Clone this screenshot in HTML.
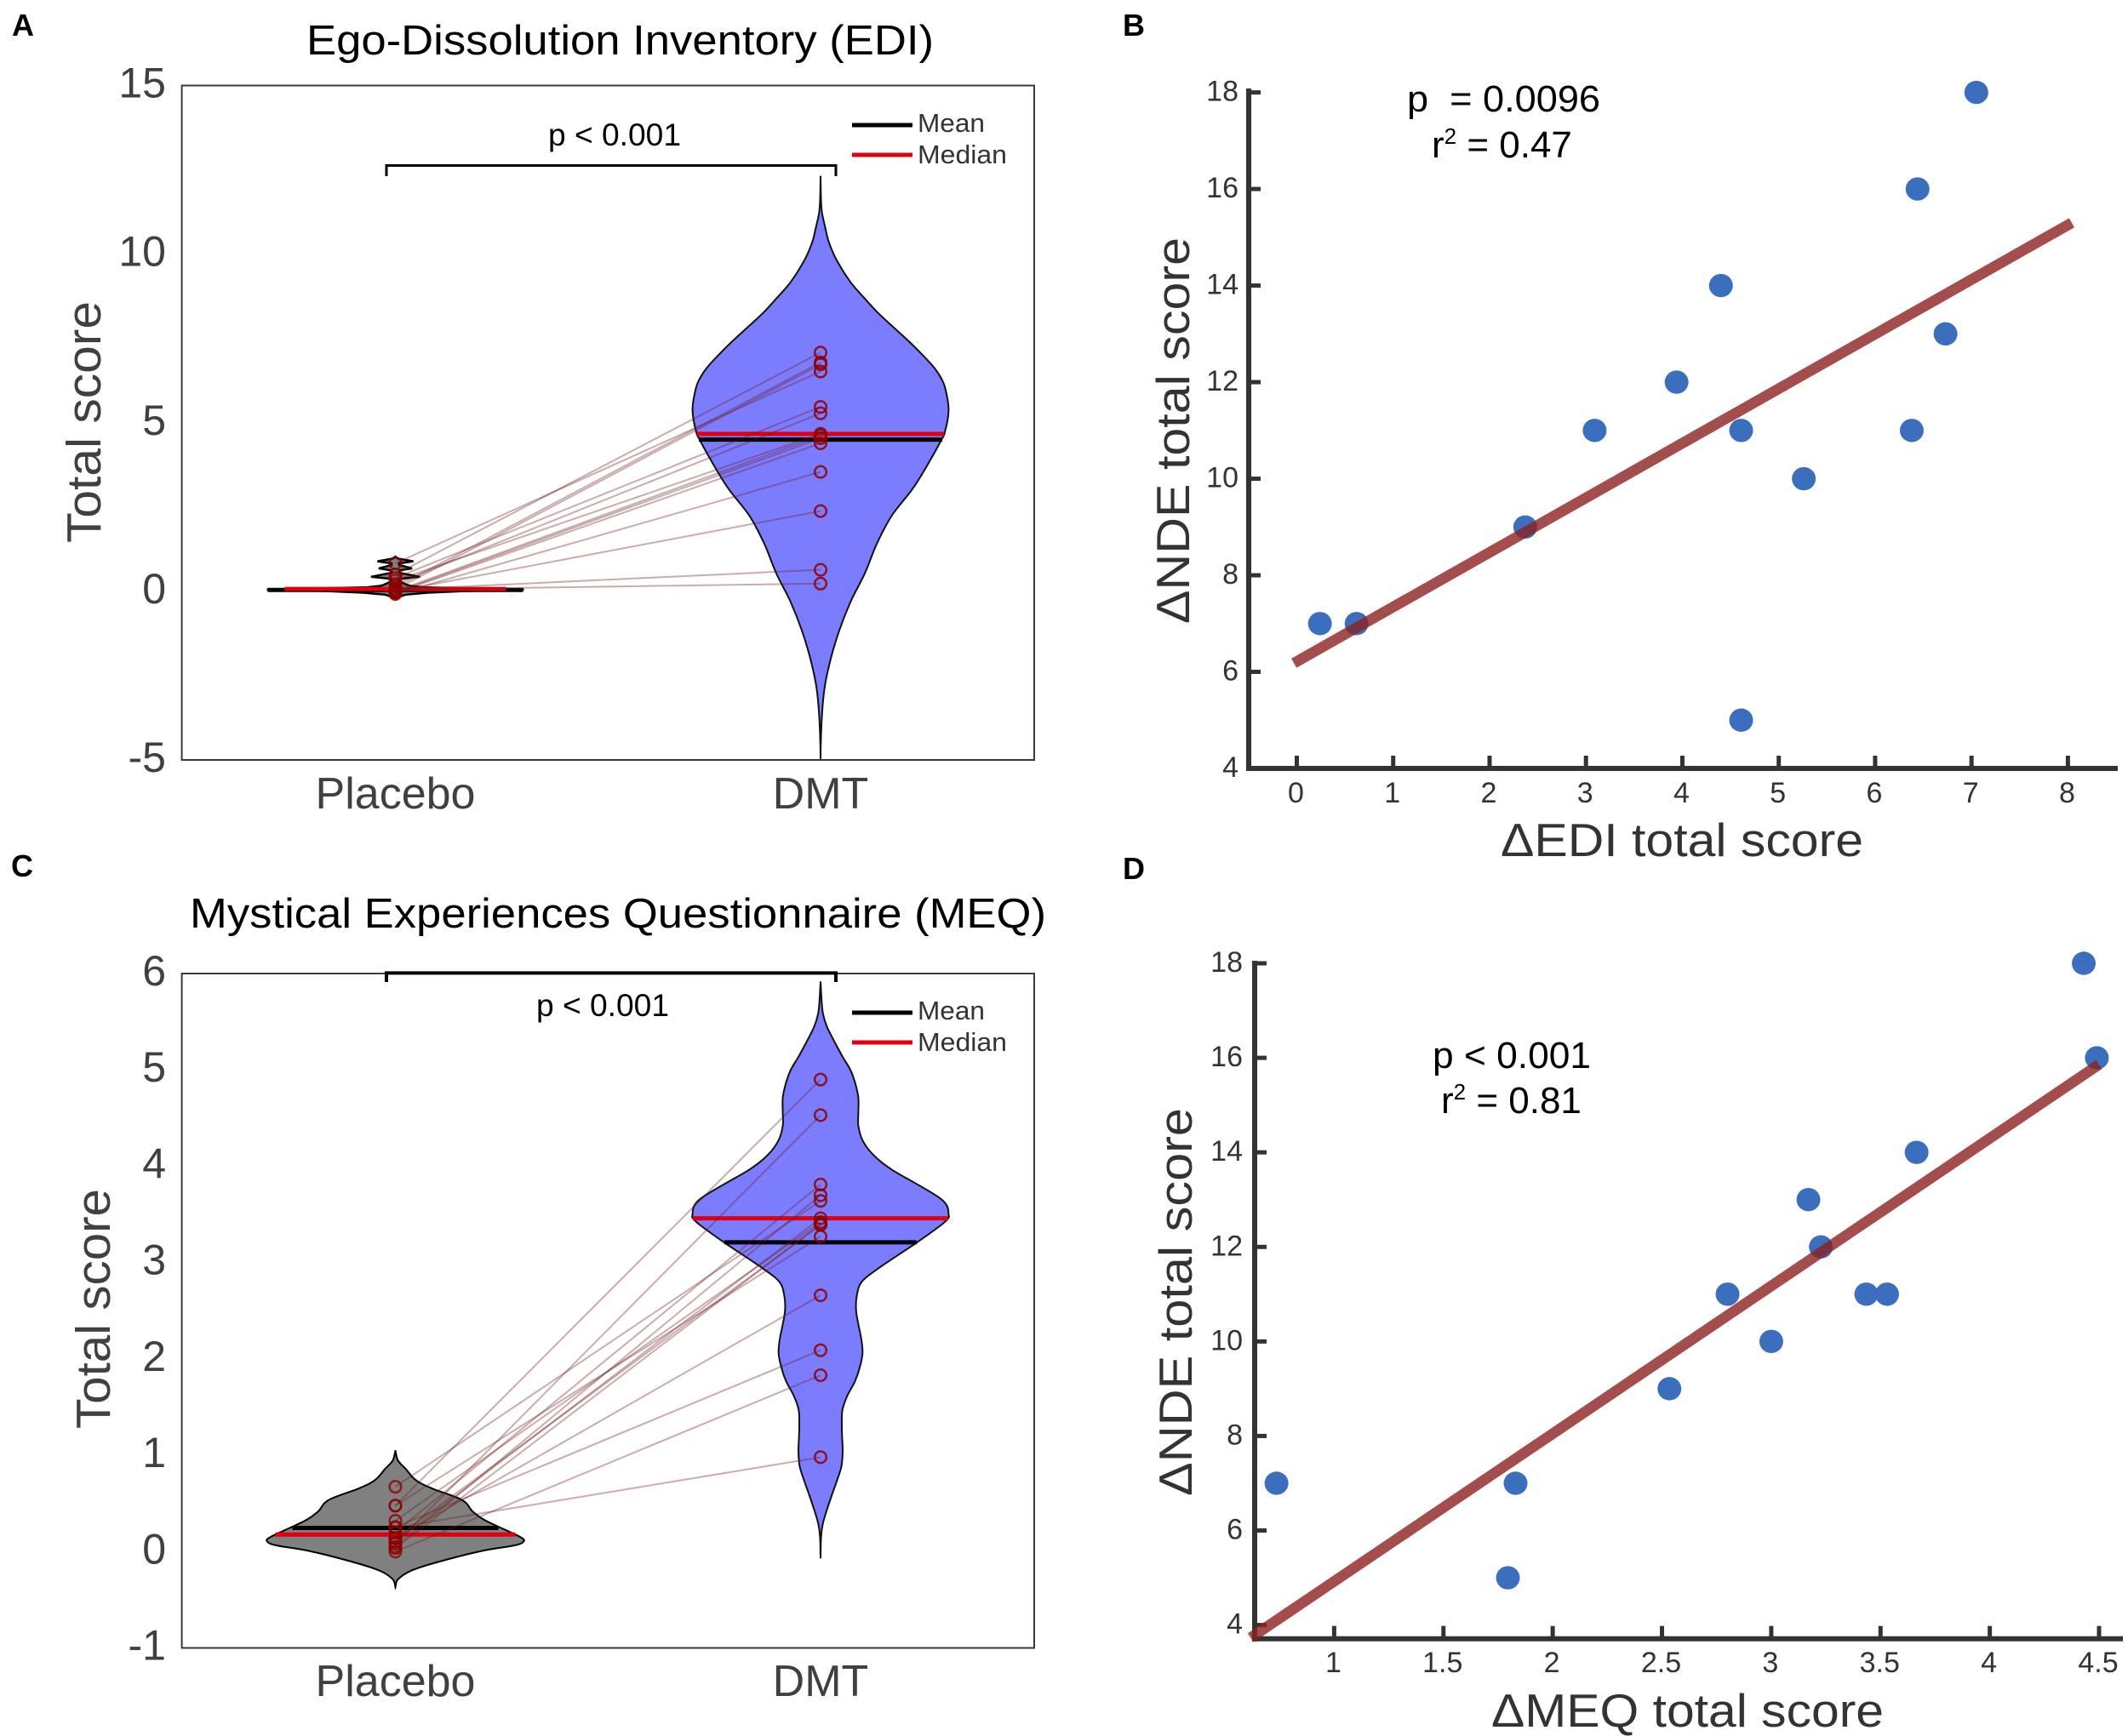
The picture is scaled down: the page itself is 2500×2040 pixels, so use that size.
<!DOCTYPE html>
<html lang="en">
<head>
<meta charset="utf-8">
<title>Ego-dissolution and mystical experience scores versus NDE scores</title>
<style>
html,body{margin:0;padding:0;background:#fff;}
svg{display:block;}
text{font-family:"Liberation Sans",Arial,sans-serif;}
</style>
</head>
<body>
<svg id="figure" xmlns="http://www.w3.org/2000/svg" width="2500" height="2040" viewBox="0 0 2500 2040">
<rect width="2500" height="2040" fill="#fff"/>

<text x="14" y="42" font-size="36" font-weight="bold">A</text>
<text x="1319" y="42" font-size="36" font-weight="bold">B</text>
<text x="13" y="1030" font-size="36" font-weight="bold">C</text>
<text x="1319" y="1033" font-size="36" font-weight="bold">D</text>

<!-- Panel A -->
<g id="panelA"></g>
<text x="360" y="64" font-size="49" textLength="737" lengthAdjust="spacingAndGlyphs">Ego-Dissolution Inventory (EDI)</text>
<text transform="translate(118,638) rotate(-90)" font-size="57" fill="#404040" textLength="284" lengthAdjust="spacingAndGlyphs">Total score</text>
<text x="644" y="171" font-size="37" textLength="156" lengthAdjust="spacingAndGlyphs">p &lt; 0.001</text>
<path d="M454 207V194.5H982V207" fill="none" stroke="#000" stroke-width="3"/>
<line x1="1001" x2="1072" y1="147" y2="147" stroke="#000" stroke-width="5"/>
<line x1="1001" x2="1072" y1="182" y2="182" stroke="#e00010" stroke-width="5"/>
<text x="1078" y="155" font-size="31" fill="#333" textLength="79" lengthAdjust="spacingAndGlyphs">Mean</text>
<text x="1078" y="192" font-size="31" fill="#333" textLength="105" lengthAdjust="spacingAndGlyphs">Median</text>

<!-- Panel B -->
<g id="panelB"></g>
<text x="1763" y="1006" font-size="55" fill="#333" textLength="426" lengthAdjust="spacingAndGlyphs">ΔEDI total score</text>
<text transform="translate(1397,733) rotate(-90)" font-size="55" fill="#333" textLength="454" lengthAdjust="spacingAndGlyphs">ΔNDE total score</text>
<text x="1653" y="131" font-size="44" xml:space="preserve" textLength="227" lengthAdjust="spacingAndGlyphs">p  = 0.0096</text>
<text x="1682" y="185" font-size="44">r<tspan font-size="26" dy="-16">2</tspan><tspan dy="16"> = 0.47</tspan></text>

<!-- Panel C -->
<g id="panelC"></g>
<text x="223" y="1090" font-size="49" textLength="1006" lengthAdjust="spacingAndGlyphs">Mystical Experiences Questionnaire (MEQ)</text>
<text transform="translate(129,1679) rotate(-90)" font-size="57" fill="#404040" textLength="282" lengthAdjust="spacingAndGlyphs">Total score</text>
<text x="630" y="1194" font-size="37" textLength="156" lengthAdjust="spacingAndGlyphs">p &lt; 0.001</text>
<path d="M454 1154V1143.4H982V1154" fill="none" stroke="#000" stroke-width="4"/>
<line x1="1001" x2="1072" y1="1190" y2="1190" stroke="#000" stroke-width="5"/>
<line x1="1001" x2="1072" y1="1225" y2="1225" stroke="#e00010" stroke-width="5"/>
<text x="1078" y="1198" font-size="31" fill="#333" textLength="79" lengthAdjust="spacingAndGlyphs">Mean</text>
<text x="1078" y="1235" font-size="31" fill="#333" textLength="105" lengthAdjust="spacingAndGlyphs">Median</text>

<!-- Panel D -->
<g id="panelD"></g>
<text x="1752" y="2029" font-size="55" fill="#333" textLength="461" lengthAdjust="spacingAndGlyphs">ΔMEQ total score</text>
<text transform="translate(1400,1758) rotate(-90)" font-size="55" fill="#333" textLength="456" lengthAdjust="spacingAndGlyphs">ΔNDE total score</text>
<text x="1683" y="1255" font-size="44" textLength="186" lengthAdjust="spacingAndGlyphs">p &lt; 0.001</text>
<text x="1693" y="1308" font-size="44">r<tspan font-size="26" dy="-16">2</tspan><tspan dy="16"> = 0.81</tspan></text>
</svg>

<script>
// ---------- Panel A data ----------
const categories = ['Placebo', 'DMT'];
const ediTicks = [15, 10, 5, 0, -5];
const ediPlaceboScores = [0.5, 0.12, 0.05, 0.83, 0.4, 0.22, 0.32, 0, -0.03, -0.05, -0.08, 0, 0.05, 0.05];
const ediDmtScores = [7.08, 6.79, 6.73, 6.52, 5.47, 5.28, 4.67, 4.62, 4.54, 4.39, 3.54, 2.38, 0.64, 0.23];
const ediDmtDensityAt = [12.32, 11.65, 11.23, 10.81, 10.39, 9.97, 9.54, 9.12, 8.70, 8.28, 7.86, 7.44, 7.02, 6.60, 6.18, 5.76, 5.42, 5.09, 4.67, 4.50, 3.91, 3.07, 2.23, 1.39, 0.55, -0.29, -1.13, -1.97, -2.82, -3.66, -4.5, -4.97];
const ediDmtDensity = [0, 0.003, 0.011, 0.035, 0.062, 0.106, 0.169, 0.244, 0.341, 0.443, 0.561, 0.683, 0.794, 0.894, 0.96, 0.989, 1, 0.993, 0.967, 0.945, 0.86, 0.725, 0.554, 0.437, 0.348, 0.237, 0.149, 0.082, 0.033, 0.011, 0.002, 0];
const ediPlaceboDensityAt = [1.03, 0.97, 0.89, 0.83, 0.78, 0.68, 0.62, 0.55, 0.43, 0.37, 0.3, 0.19, 0.16, 0.12, 0.09, 0.05, 0.01, -0.04, -0.1, -0.2];
const ediPlaceboDensity = [0, 0.02, 0.14, 0.03, 0.03, 0.13, 0.03, 0.03, 0.19, 0.03, 0.03, 0.09, 0.12, 0.22, 0.55, 1, 0.55, 0.25, 0.08, 0];
const ediMeans = [0.04, 4.5];
const ediMedians = [0.07, 4.67];

// ---------- Panel C data ----------
const meqTicks = [6, 5, 4, 3, 2, 1, 0, -1];
const meqPlaceboScores = [0.477, 0.08, 0.2, 0.05, 0.673, 0.1, 0.32, 0.14, 0.477, 0.14, 0.255, 0, 0.25, 0.036];
const meqDmtScores = [4.9, 4.53, 3.81, 3.70, 3.64, 3.46, 3.42, 3.39, 3.27, 2.66, 2.09, 1.83, 0.98, 3.4];
const meqDmtDensityAt = [5.918, 5.74, 5.59, 5.45, 5.30, 5.15, 5.0, 4.86, 4.71, 4.56, 4.42, 4.27, 4.12, 3.97, 3.83, 3.68, 3.59, 3.50, 3.46, 3.39, 3.21, 2.94, 2.80, 2.66, 2.51, 2.36, 2.21, 2.06, 1.91, 1.77, 1.62, 1.47, 1.32, 1.18, 1.03, 0.88, 0.74, 0.59, 0.44, 0.29, 0.15, -0.07];
const meqDmtDensity = [0, 0.007, 0.018, 0.049, 0.106, 0.166, 0.233, 0.271, 0.295, 0.295, 0.295, 0.328, 0.41, 0.55, 0.732, 0.92, 0.987, 1, 0.998, 0.942, 0.754, 0.452, 0.322, 0.284, 0.277, 0.295, 0.318, 0.328, 0.306, 0.27, 0.21, 0.171, 0.166, 0.169, 0.173, 0.162, 0.129, 0.089, 0.051, 0.018, 0.004, 0];
const meqPlaceboDensityAt = [1.05, 0.947, 0.858, 0.741, 0.653, 0.535, 0.418, 0.33, 0.241, 0.153, 0.109, 0.065, 0.006, -0.112, -0.2, -0.289, -0.371];
const meqPlaceboDensity = [0, 0.02, 0.08, 0.16, 0.29, 0.52, 0.6, 0.69, 0.83, 0.97, 1, 0.93, 0.67, 0.32, 0.12, 0.02, 0];
const meqMeans = [0.245, 3.21];
const meqMedians = [0.177, 3.46];

// ---------- Panel B data ----------
const bXTicks = [0, 1, 2, 3, 4, 5, 6, 7, 8];
const bYTicks = [4, 6, 8, 10, 12, 14, 16, 18];
const bEdiChange = [0.24, 0.62, 2.37, 3.09, 3.94, 4.40, 4.61, 4.61, 5.26, 6.38, 6.44, 6.73, 7.05];
const bNdeChange = [7, 7, 9, 11, 12, 14, 11, 5, 10, 11, 16, 13, 18];
const bFitX = [-0.03, 8.04];
const bFitY = [6.18, 15.3];

// ---------- Panel D data ----------
const dXTicks = [1, 1.5, 2, 2.5, 3, 3.5, 4, 4.5];
const dYTicks = [4, 6, 8, 10, 12, 14, 16, 18];
const dMeqChange = [0.736, 1.83, 1.795, 2.534, 2.80, 3.0, 3.17, 3.227, 3.435, 3.53, 3.665, 4.43, 4.49];
const dNdeChange = [7, 7, 5, 9, 11, 10, 13, 12, 11, 11, 14, 18, 16];
const dFitX = [0.618, 4.5];
const dFitY = [3.73, 15.86];

// ---------- Helpers ----------
const SVGNS = 'http://www.w3.org/2000/svg';
function make(tag, attrs, parent) {
  const node = document.createElementNS(SVGNS, tag);
  for (const k in attrs) node.setAttribute(k, attrs[k]);
  parent.appendChild(node);
  return node;
}
function linear(d0, d1, r0, r1) {
  return v => r0 + (v - d0) * (r1 - r0) / (d1 - d0);
}
function smoothPath(pts) {
  let d = 'M' + pts[0][0].toFixed(1) + ' ' + pts[0][1].toFixed(1);
  for (let i = 0; i < pts.length - 1; i++) {
    const p0 = pts[Math.max(i - 1, 0)], p1 = pts[i], p2 = pts[i + 1], p3 = pts[Math.min(i + 2, pts.length - 1)];
    const c1 = [p1[0] + (p2[0] - p0[0]) / 6, p1[1] + (p2[1] - p0[1]) / 6];
    const c2 = [p2[0] - (p3[0] - p1[0]) / 6, p2[1] - (p3[1] - p1[1]) / 6];
    d += 'C' + c1[0].toFixed(1) + ' ' + c1[1].toFixed(1) + ' ' + c2[0].toFixed(1) + ' ' + c2[1].toFixed(1) + ' ' + p2[0].toFixed(1) + ' ' + p2[1].toFixed(1);
  }
  return d;
}
function violinPath(cx, halfMax, yScale, at, dens, smooth) {
  const right = at.map((v, i) => [cx + dens[i] * halfMax, yScale(v)]);
  const left = at.map((v, i) => [cx - dens[i] * halfMax, yScale(v)]);
  if (smooth) {
    const r = smoothPath(right);
    const l = smoothPath(left.slice().reverse());
    return r + 'L' + l.slice(1) + 'Z';
  }
  return 'M' + right.concat(left.slice().reverse()).map(p => p[0].toFixed(1) + ' ' + p[1].toFixed(1)).join('L') + 'Z';
}

function drawViolinPanel(group, cfg) {
  const y = cfg.yScale;
  const x = i => cfg.xPositions[i];

  const box = make('rect', {x: 213.6, y: cfg.top, width: 1001.4, height: cfg.bottom - cfg.top, fill: 'none', stroke: '#3a3a3a', 'stroke-width': 2}, group);
  
  

  cfg.ticks.forEach(t => {
    const label = make('text', {x: 195, y: y(t) + 14, 'font-size': 50, fill: '#404040', 'text-anchor': 'end'}, group);
    
    
    label.textContent = String(t);
  });
  categories.forEach((c, i) => {
    const label = make('text', {x: x(i), y: cfg.catBaseline, 'font-size': 52, fill: '#404040', 'text-anchor': 'middle'}, group);
    
    
    label.textContent = c;
  });

  const placebo = make('path', {d: violinPath(x(0), 151, y, cfg.placeboAt, cfg.placeboDensity, cfg.placeboSmooth), fill: '#808080', stroke: '#000', 'stroke-width': cfg.placeboStroke}, group);
  
  
  const dmt = make('path', {d: violinPath(x(1), 150.4, y, cfg.dmtAt, cfg.dmtDensity, true), fill: '#7c7cff', stroke: '#111', 'stroke-width': 2}, group);
  
  

  [0, 1].forEach(i => {
    const mean = make('line', {x1: x(i) - cfg.meanHalf[i], x2: x(i) + cfg.meanHalf[i], y1: y(cfg.means[i]), y2: y(cfg.means[i]), stroke: '#000', 'stroke-width': 5}, group);
    
    
    const median = make('line', {x1: x(i) - cfg.medianHalf[i], x2: x(i) + cfg.medianHalf[i], y1: y(cfg.medians[i]), y2: y(cfg.medians[i]), stroke: '#e00010', 'stroke-width': 5}, group);
    
    
  });

  cfg.placeboScores.forEach((s, i) => {
    const link = make('line', {x1: x(0), y1: y(s), x2: x(1), y2: y(cfg.dmtScores[i]), stroke: '#6e1a1a', 'stroke-opacity': 0.36, 'stroke-width': 2}, group);
    
    
  });
  cfg.placeboScores.forEach(s => {
    const dot = make('circle', {cx: x(0), cy: y(s), r: 6.8, fill: 'none', stroke: '#8c0000', 'stroke-opacity': 0.8, 'stroke-width': 2.5}, group);
    
    
  });
  cfg.dmtScores.forEach(s => {
    const dot = make('circle', {cx: x(1), cy: y(s), r: 6.8, fill: 'none', stroke: '#8c0000', 'stroke-opacity': 0.85, 'stroke-width': 2.5}, group);
    
    
  });
}

function drawScatterPanel(group, cfg) {
  const x = cfg.xScale, y = cfg.yScale;

  const ySpine = make('line', {x1: cfg.spineX, x2: cfg.spineX, y1: cfg.spineTop, y2: cfg.spineBottom + 3, stroke: '#333', 'stroke-width': 6}, group);
  
  
  const xSpine = make('line', {x1: cfg.spineX - 3, x2: cfg.spineRight, y1: cfg.spineBottom, y2: cfg.spineBottom, stroke: '#333', 'stroke-width': 6}, group);
  
  

  cfg.yTicks.forEach(t => {
    const tick = make('line', {x1: cfg.spineX, x2: cfg.spineX + 14, y1: y(t), y2: y(t), stroke: '#333', 'stroke-width': 5}, group);
    
    
    const label = make('text', {x: cfg.yLabelX, y: y(t) + 10, 'font-size': 34, fill: '#333', 'text-anchor': 'end'}, group);
    
    
    label.textContent = String(t);
  });
  cfg.xTicks.forEach(t => {
    const tick = make('line', {x1: x(t), x2: x(t), y1: cfg.spineBottom, y2: cfg.spineBottom - 15, stroke: '#333', 'stroke-width': 5}, group);
    
    
    const label = make('text', {x: x(t) - 1, y: cfg.xLabelY, 'font-size': 34, fill: '#333', 'text-anchor': 'middle'}, group);
    
    
    label.textContent = String(t);
  });

  cfg.xs.forEach((v, i) => {
    const dot = make('ellipse', {cx: x(v), cy: y(cfg.ys[i]), rx: 14, ry: 13.7, fill: '#3b6fbd'}, group);
    
    
  });

  const fit = make('line', {x1: x(cfg.fitX[0]), y1: y(cfg.fitY[0]), x2: x(cfg.fitX[1]), y2: y(cfg.fitY[1]), stroke: '#8c2020', 'stroke-opacity': 0.8, 'stroke-width': 12.5}, group);
  
  
}

// ---------- Render ----------
drawViolinPanel(document.getElementById('panelA'), {
  top: 100.5, bottom: 893,
  yScale: linear(15, -5, 100.5, 893),
  xPositions: [464.5, 964],
  ticks: ediTicks,
  catBaseline: 950,
  placeboAt: ediPlaceboDensityAt, placeboDensity: ediPlaceboDensity, placeboSmooth: false, placeboStroke: 2.5,
  dmtAt: ediDmtDensityAt, dmtDensity: ediDmtDensity,
  means: ediMeans, medians: ediMedians,
  meanHalf: [150, 143], medianHalf: [130, 145],
  placeboScores: ediPlaceboScores, dmtScores: ediDmtScores
});
drawViolinPanel(document.getElementById('panelC'), {
  top: 1144, bottom: 1936.5,
  yScale: linear(6, -1, 1144, 1936.5),
  xPositions: [464.5, 964],
  ticks: meqTicks,
  catBaseline: 1993,
  placeboAt: meqPlaceboDensityAt, placeboDensity: meqPlaceboDensity, placeboSmooth: true, placeboStroke: 2,
  dmtAt: meqDmtDensityAt, dmtDensity: meqDmtDensity,
  means: meqMeans, medians: meqMedians,
  meanHalf: [121, 113], medianHalf: [141, 150],
  placeboScores: meqPlaceboScores, dmtScores: meqDmtScores
});
drawScatterPanel(document.getElementById('panelB'), {
  xScale: linear(0, 8, 1523.5, 2429.4),
  yScale: linear(4, 18, 903, 108.6),
  spineX: 1467, spineTop: 104, spineBottom: 903, spineRight: 2488,
  yLabelX: 1455, xLabelY: 943,
  xTicks: bXTicks, yTicks: bYTicks,
  xs: bEdiChange, ys: bNdeChange,
  fitX: bFitX, fitY: bFitY
});
drawScatterPanel(document.getElementById('panelD'), {
  xScale: linear(1, 4.5, 1567.4, 2466),
  yScale: linear(4, 18, 1909.6, 1132),
  spineX: 1474, spineTop: 1129, spineBottom: 1925.7, spineRight: 2494,
  yLabelX: 1460, xLabelY: 1965,
  xTicks: dXTicks, yTicks: dYTicks,
  xs: dMeqChange, ys: dNdeChange,
  fitX: dFitX, fitY: dFitY
});
</script>
</body>
</html>
